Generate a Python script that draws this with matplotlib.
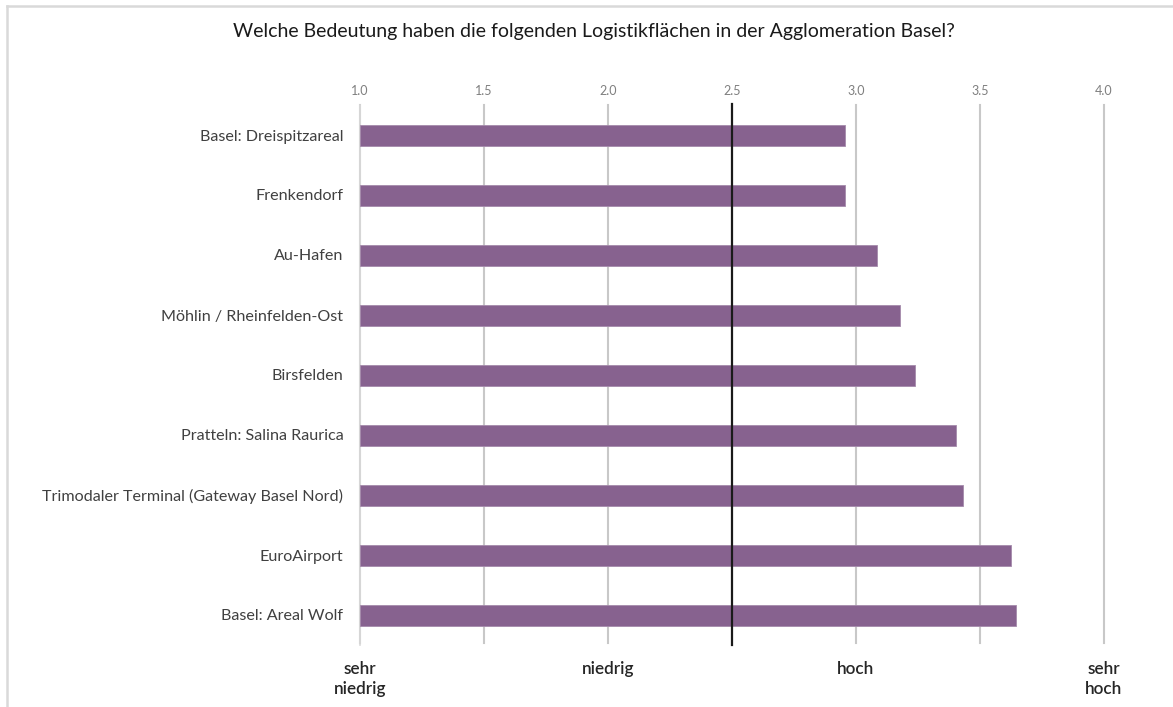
import matplotlib
matplotlib.use("Agg")
import matplotlib.pyplot as plt
from matplotlib.lines import Line2D

categories = [
    "Basel: Dreispitzareal",
    "Frenkendorf",
    "Au-Hafen",
    "Möhlin / Rheinfelden-Ost",
    "Birsfelden",
    "Pratteln: Salina Raurica",
    "Trimodaler Terminal (Gateway Basel Nord)",
    "EuroAirport",
    "Basel: Areal Wolf",
]
values = [2.956, 2.956, 3.086, 3.177, 3.238, 3.403, 3.431, 3.625, 3.645]
top_ticks = [1.0, 1.5, 2.0, 2.5, 3.0, 3.5, 4.0]
bottom_positions = [1.0, 2.0, 3.0, 4.0]
bottom_labels = ["sehr\nniedrig", "niedrig", "hoch", "sehr\nhoch"]
title = "Welche Bedeutung haben die folgenden Logistikflächen in der Agglomeration Basel?"
midpoint = 2.5

plt.rcParams['font.family'] = ['Lato', 'DejaVu Sans']

W, H = 1173, 707
fig = plt.figure(figsize=(W / 100, H / 100), dpi=100)
ax = fig.add_axes([360 / W, 1 - 645 / H, (1104 - 360) / W, (645 - 105) / H])

n = len(categories)
ypos = list(range(n))
ax.barh(ypos, [v - 1.0 for v in values], left=1.0, height=0.35,
        color="#87628F", edgecolor="#a58aab", linewidth=0.6, zorder=3)

ax.set_xlim(1.0, 4.0)
ax.set_ylim(n - 0.5, -0.5)

# gridlines
for t in top_ticks:
    if t == midpoint:
        continue
    ax.plot([t, t], [n - 0.53, -0.5], color="#c8c8c8", linewidth=1.5, zorder=1,
            clip_on=False)
ax.plot([midpoint, midpoint], [n - 0.5, -0.52], color="#1a1a1a", linewidth=1.6,
        zorder=4, clip_on=False)

ax.set_yticks(ypos)
ax.set_yticklabels(categories, fontsize=11.6, color="#404040")
ax.tick_params(axis="y", length=0, pad=12)

ax.xaxis.tick_top()
ax.set_xticks(top_ticks)
ax.set_xticklabels([f"{t:.1f}" for t in top_ticks], fontsize=9, color="#7f7f7f")
ax.tick_params(axis="x", length=0, pad=6)

for s in ["top", "right", "bottom"]:
    ax.spines[s].set_visible(False)
ax.spines["left"].set_color("#d9d9d9")
ax.spines["left"].set_linewidth(1.2)

for p, lab in zip(bottom_positions, bottom_labels):
    ax.text(p, n - 0.5 + 0.27, lab, ha="center", va="top", fontsize=12.3,
            color="#262626", fontweight="semibold", linespacing=1.3,
            transform=ax.transData, clip_on=False)

fig.text(594 / W, 1 - 31 / H, title, ha="center", va="center",
         fontsize=14, color="#1a1a1a")

# outer frame (light gray, left and top)
fig.add_artist(Line2D([7 / W, 7 / W], [0, 1 - 6 / H], transform=fig.transFigure,
                      color="#d9d9d9", linewidth=1.8))
fig.add_artist(Line2D([7 / W, 1], [1 - 6 / H, 1 - 6 / H], transform=fig.transFigure,
                      color="#d9d9d9", linewidth=1.8))

fig.savefig("out.png", dpi=100, facecolor="white")
